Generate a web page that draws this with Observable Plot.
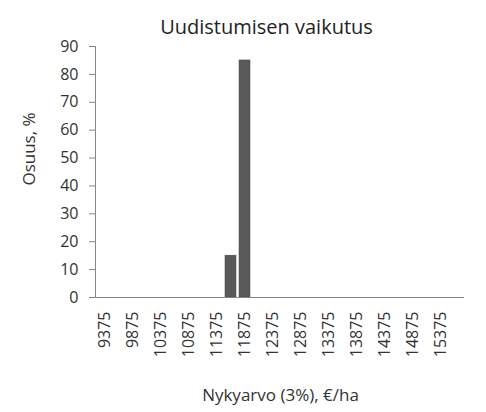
<!DOCTYPE html>
<html>
<head>
<meta charset="utf-8">
<script src="https://cdn.jsdelivr.net/npm/d3@7"></script>
<script src="https://cdn.jsdelivr.net/npm/@observablehq/plot@0.6"></script>
<style>
  html, body { margin: 0; padding: 0; background: #fff; }
</style>
</head>
<body>
<div id="chart"></div>
<script>
const categories = [9375, 9625, 9875, 10125, 10375, 10625, 10875, 11125, 11375, 11625, 11875, 12125, 12375,
  12625, 12875, 13125, 13375, 13625, 13875, 14125, 14375, 14625, 14875, 15125, 15375, 15625];
const values = [0, 0, 0, 0, 0, 0, 0, 0, 0, 15, 85, 0, 0,
  0, 0, 0, 0, 0, 0, 0, 0, 0, 0, 0, 0, 0];
const xTickLabels = [9375, 9875, 10375, 10875, 11375, 11875, 12375, 12875, 13375, 13875, 14375, 14875, 15375];
const yTicks = [0, 10, 20, 30, 40, 50, 60, 70, 80, 90];
const titleText = "Uudistumisen vaikutus";
const xLabel = "Nykyarvo (3%), €/ha";
const yLabel = "Osuus, %";

const data = categories.map((c, i) => ({cat: String(c), value: values[i]}));

const chart = Plot.plot({
  width: 486,
  height: 412,
  marginLeft: 95,
  marginRight: 23,
  marginTop: 46,
  marginBottom: 115,
  style: {fontFamily: "'Open Sans', sans-serif", fontSize: "16px", color: "#333", background: "#fff", overflow: "visible"},
  x: {type: "band", domain: categories.map(String), paddingInner: 0.25, paddingOuter: 0.125},
  y: {domain: [0, 90]},
  marks: [
    Plot.barY(data, {x: "cat", y: "value", fill: "#595959", stroke: "#4a4a4a", strokeWidth: 0.5}),
    Plot.frame({anchor: "left", stroke: "#868686"}),
    Plot.frame({anchor: "bottom", stroke: "#868686"}),
    Plot.axisY({ticks: yTicks, tickSize: 6, tickPadding: 11, label: null, stroke: "#868686", fill: "#333", fontSize: 16}),
    Plot.axisX({ticks: xTickLabels.map(String), tickSize: 0, tickRotate: -90, tickPadding: 14,
      label: null, fill: "#333", fontSize: 16}),
    Plot.text([titleText], {frameAnchor: "top", textAnchor: "middle", lineAnchor: "middle", dx: -13, dy: -19, fontSize: 20, fill: "#222"}),
    Plot.text([yLabel], {frameAnchor: "left", textAnchor: "middle", lineAnchor: "middle", dx: -66, dy: -23, rotate: -90, fontSize: 17, fill: "#333"}),
    Plot.text([xLabel], {frameAnchor: "bottom", textAnchor: "middle", lineAnchor: "middle", dx: 1, dy: 98, fontSize: 17, fill: "#333"})
  ]
});
document.getElementById("chart").appendChild(chart);
</script>
</body>
</html>
